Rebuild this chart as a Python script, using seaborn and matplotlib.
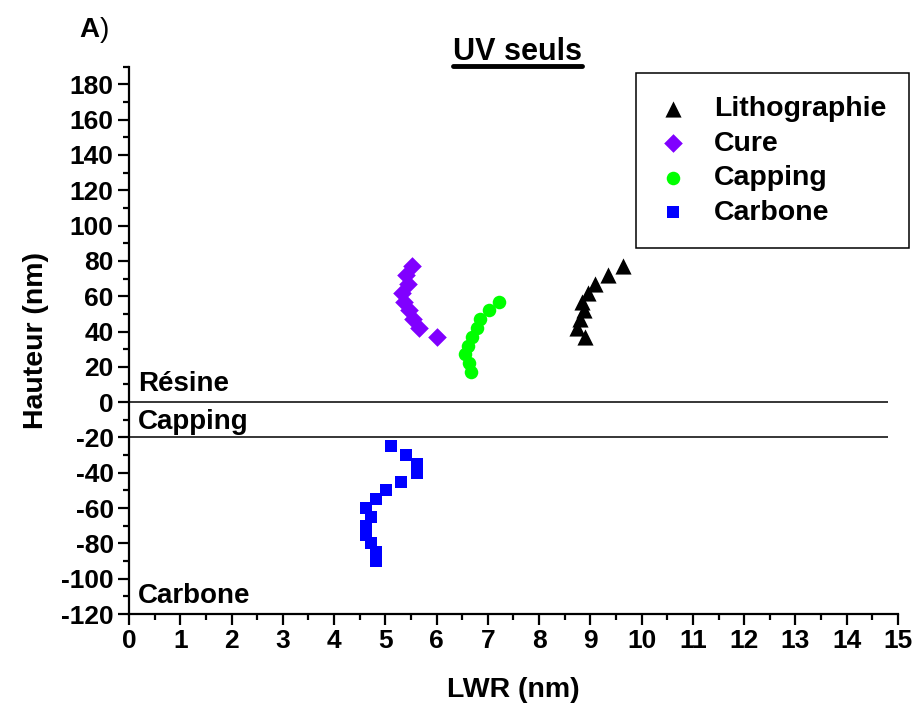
import pandas as pd
import seaborn as sns
import matplotlib.pyplot as plt
from matplotlib.lines import Line2D
from matplotlib.ticker import MultipleLocator

# data
litho_x = [9.64, 9.34, 9.09, 8.95, 8.84, 8.87, 8.79, 8.73, 8.90]
litho_y = [77, 72, 67, 62, 57, 52, 47, 42, 37]
cure_x = [5.53, 5.40, 5.44, 5.32, 5.36, 5.47, 5.55, 5.65, 6.00]
cure_y = [77, 72, 67, 62, 57, 52, 47, 42, 37]
capping_x = [7.22, 7.02, 6.85, 6.79, 6.69, 6.61, 6.56, 6.64, 6.68]
capping_y = [57, 52, 47, 42, 37, 32, 27, 22, 17]
carbone_x = [5.11, 5.40, 5.62, 5.62, 5.31, 5.01, 4.82, 4.62, 4.72, 4.62, 4.62, 4.72, 4.82, 4.82]
carbone_y = [-25, -30, -35, -40, -45, -50, -55, -60, -65, -70, -75, -80, -85, -90]

series = ["Lithographie", "Cure", "Capping", "Carbone"]
colors = {"Lithographie": "black", "Cure": "#8000ff", "Capping": "#00ff00", "Carbone": "#0000ff"}
markers = {"Lithographie": "^", "Cure": "D", "Capping": "o", "Carbone": "s"}
sizes = {"Lithographie": 135, "Cure": 90, "Capping": 95, "Carbone": 75}

df = pd.concat([
    pd.DataFrame({"LWR": litho_x, "Hauteur": litho_y, "serie": "Lithographie"}),
    pd.DataFrame({"LWR": cure_x, "Hauteur": cure_y, "serie": "Cure"}),
    pd.DataFrame({"LWR": capping_x, "Hauteur": capping_y, "serie": "Capping"}),
    pd.DataFrame({"LWR": carbone_x, "Hauteur": carbone_y, "serie": "Carbone"}),
])

sns.set_style("ticks")
plt.rcParams["font.family"] = ["Liberation Sans", "DejaVu Sans"]
plt.rcParams["font.weight"] = "bold"
plt.rcParams["axes.unicode_minus"] = False
for k in ["text.color", "axes.labelcolor", "xtick.color", "ytick.color", "axes.edgecolor"]:
    plt.rcParams[k] = "black"

fig = plt.figure(figsize=(9.16, 7.07), dpi=100)
ax = fig.add_axes([0.1408, 0.1315, 0.8395, 0.7742])

for s in series:
    sns.scatterplot(data=df[df["serie"] == s], x="LWR", y="Hauteur", ax=ax,
                    color=colors[s], marker=markers[s], s=sizes[s],
                    linewidth=0, label=s, zorder=3)

ax.hlines([0, -20], 0, 14.8, color="black", lw=1.1, zorder=2)

ax.set_xlim(0, 15)
ax.set_ylim(-120, 190)
ax.xaxis.set_major_locator(MultipleLocator(1))
ax.xaxis.set_minor_locator(MultipleLocator(0.5))
ax.set_yticks(range(-120, 181, 20))
ax.yaxis.set_minor_locator(MultipleLocator(10))
ax.tick_params(which="major", direction="out", length=8, width=1.6, labelsize=19, pad=3)
ax.tick_params(which="minor", direction="out", length=4.5, width=1.6)
for lab in ax.get_xticklabels() + ax.get_yticklabels():
    lab.set_fontweight("bold")
sns.despine(ax=ax)
for sp in ["left", "bottom"]:
    ax.spines[sp].set_linewidth(1.6)

ax.set_xlabel("LWR (nm)", fontsize=20.5, fontweight="bold", labelpad=17)
ax.set_ylabel("Hauteur (nm)", fontsize=20.5, fontweight="bold", labelpad=9)

for txt, yv in [("Résine", 10.5), ("Capping", -11), ("Carbone", -110)]:
    ax.text(0.17, yv, txt, fontsize=20, fontweight="bold", va="center", ha="left")

leg = ax.legend(loc="upper left", bbox_to_anchor=(0.659, 0.988), frameon=True,
                fancybox=False, edgecolor="black", framealpha=1,
                prop={"weight": "bold", "size": 20.5}, labelspacing=0.3,
                handletextpad=0.95, borderpad=0.8, handlelength=1.0, borderaxespad=0)
leg.get_frame().set_linewidth(1.1)

title = fig.text(0.5655, 0.9264, "UV seuls", fontsize=22, fontweight="bold",
                 ha="center", va="center")
lab_a = fig.text(0.087, 0.958, "A", fontsize=20, fontweight="bold", va="center")

fig.canvas.draw()
r = fig.canvas.get_renderer()
bb = title.get_window_extent(r).transformed(fig.transFigure.inverted())
fig.add_artist(Line2D([bb.x0, bb.x1], [bb.y0 + 0.002, bb.y0 + 0.002],
                      transform=fig.transFigure, color="black", lw=3.5))
ba = lab_a.get_window_extent(r).transformed(fig.transFigure.inverted())
fig.text(ba.x1, 0.958, ")", fontsize=20, fontweight="normal", va="center")

fig.savefig("out.png", dpi=100)
